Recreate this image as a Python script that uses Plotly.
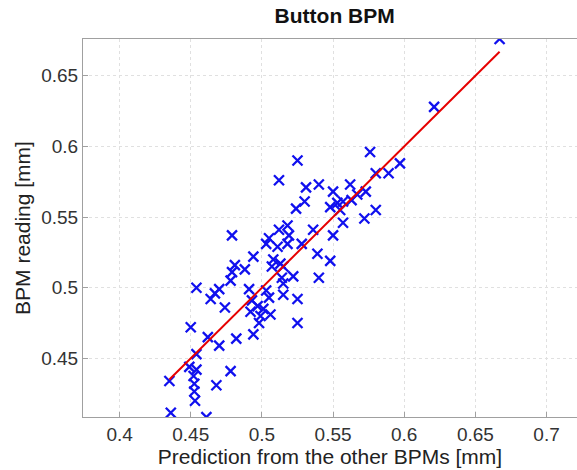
import plotly.graph_objects as go

# Predicted position from the other BPMs [mm]
prediction = [
    0.667, 0.621, 0.576, 0.597, 0.580, 0.589, 0.525, 0.512, 0.562, 0.540,
    0.531, 0.550, 0.573, 0.567, 0.530, 0.548, 0.553, 0.557, 0.563, 0.555,
    0.524, 0.580, 0.572, 0.557, 0.536, 0.518, 0.512, 0.550, 0.479, 0.505,
    0.519, 0.503, 0.518, 0.528, 0.511, 0.539, 0.548, 0.540, 0.494, 0.508,
    0.513, 0.515, 0.507, 0.522, 0.514, 0.515, 0.481, 0.479, 0.488, 0.478,
    0.454, 0.470, 0.467, 0.464, 0.474, 0.491, 0.493, 0.503, 0.505, 0.515,
    0.525, 0.497, 0.501, 0.506, 0.499, 0.498, 0.525, 0.492, 0.450, 0.462,
    0.470, 0.482, 0.494, 0.454, 0.449, 0.454, 0.452, 0.4525, 0.4525, 0.453,
    0.435, 0.478, 0.468, 0.436, 0.461,
]
# Measured BPM reading [mm]
reading = [
    0.676, 0.628, 0.596, 0.588, 0.581, 0.581, 0.590, 0.576, 0.573, 0.573,
    0.571, 0.568, 0.568, 0.566, 0.561, 0.557, 0.560, 0.561, 0.562, 0.555,
    0.556, 0.555, 0.549, 0.546, 0.541, 0.544, 0.541, 0.537, 0.537, 0.535,
    0.537, 0.531, 0.531, 0.531, 0.529, 0.524, 0.519, 0.507, 0.522, 0.520,
    0.517, 0.515, 0.515, 0.508, 0.507, 0.503, 0.516, 0.511, 0.513, 0.505,
    0.500, 0.499, 0.496, 0.492, 0.486, 0.499, 0.491, 0.498, 0.493, 0.495,
    0.492, 0.487, 0.485, 0.481, 0.480, 0.475, 0.475, 0.483, 0.472, 0.465,
    0.459, 0.464, 0.467, 0.453, 0.444, 0.442, 0.4375, 0.432, 0.4265, 0.420,
    0.434, 0.441, 0.431, 0.4115, 0.4084,
]

x_ticks = [0.4, 0.45, 0.5, 0.55, 0.6, 0.65, 0.7]
y_ticks = [0.45, 0.5, 0.55, 0.6, 0.65]

# ideal line (reading = prediction) over the prediction range
line_x = [min(prediction), max(prediction)]
line_y = list(line_x)

FONT = "Liberation Sans, Arial, sans-serif"

fig = go.Figure()
fig.add_trace(go.Scatter(
    x=prediction, y=reading, mode="markers",
    marker=dict(symbol="x-thin", size=10, color="#1010ee",
                line=dict(width=2.3, color="#1010ee")),
    showlegend=False,
))
fig.add_trace(go.Scatter(
    x=line_x, y=line_y, mode="lines",
    line=dict(color="#e60000", width=2),
    showlegend=False,
))

fig.update_layout(
    width=577, height=470,
    margin=dict(l=83, r=0, t=39, b=53),
    paper_bgcolor="white", plot_bgcolor="white",
    font=dict(family=FONT, color="#222222"),
    title=dict(text="<b>Button BPM</b>", x=0.58, xanchor="center",
               y=0.966, yanchor="middle",
               font=dict(size=21, family=FONT, color="#111111")),
)
fig.update_xaxes(
    range=[0.3743, 0.7214], tickvals=x_ticks,
    ticks="inside", ticklen=5, tickcolor="#a0a0a0",
    showline=True, linecolor="#a0a0a0", linewidth=1, mirror=True,
    showgrid=True, gridcolor="#e0e0e0", griddash="dot", gridwidth=1,
    zeroline=False,
    tickfont=dict(size=19, color="#333333"),
    title=dict(text="Prediction from the other BPMs [mm]",
               font=dict(size=21, color="#222222"), standoff=2),
)
fig.update_yaxes(
    range=[0.4085, 0.676], tickvals=y_ticks,
    ticks="inside", ticklen=5, tickcolor="#a0a0a0",
    showline=True, linecolor="#a0a0a0", linewidth=1, mirror=False,
    showgrid=True, gridcolor="#e0e0e0", griddash="dot", gridwidth=1,
    zeroline=False,
    tickfont=dict(size=19, color="#333333"),
    title=dict(text="BPM reading [mm]",
               font=dict(size=21, color="#222222"), standoff=4),
)

fig.write_html("out.html")
